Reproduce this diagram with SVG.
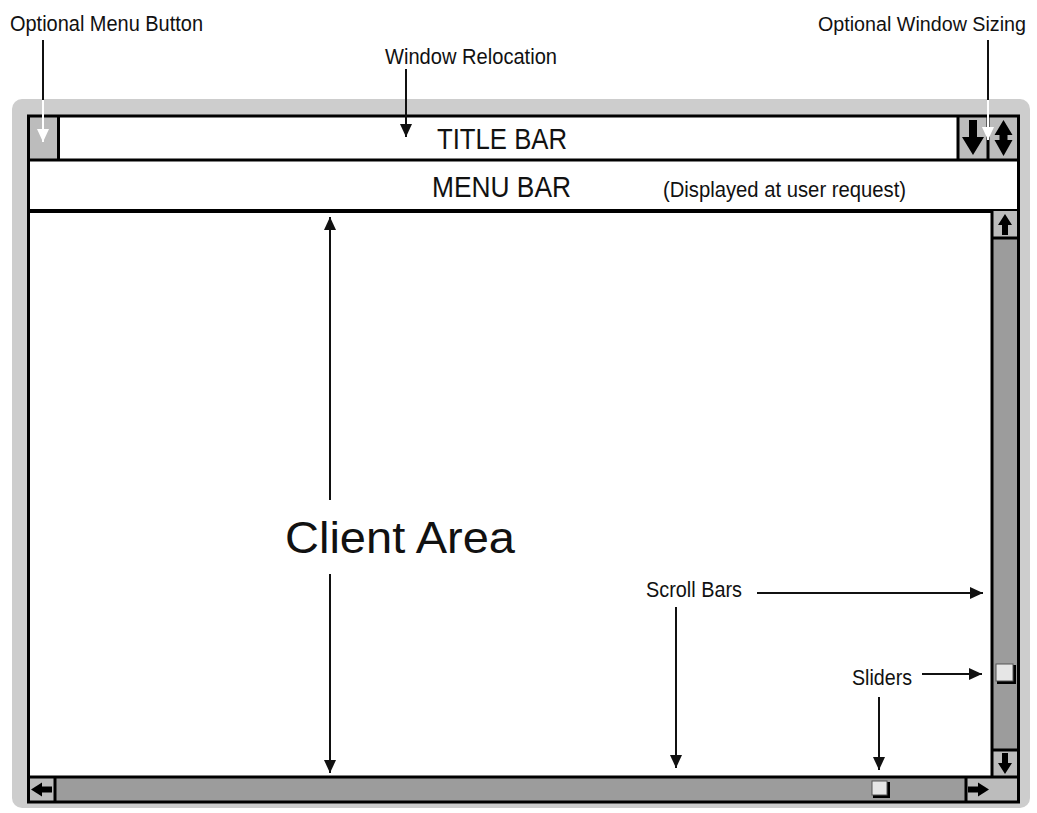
<svg xmlns="http://www.w3.org/2000/svg" width="1037" height="813" viewBox="0 0 1037 813">
<style>
text{font-family:"Liberation Sans",Arial,sans-serif;fill:#111}
.lbl{font-size:22px}
.bar{font-size:30px}
.ln{stroke:#111;stroke-width:2;fill:none}
.wl{stroke:#fff;stroke-width:2;fill:none}
.bk{stroke:#000;stroke-width:3;fill:none}
.btn{fill:#bcbcbc}
.sb{fill:#9c9c9c}
.blk{fill:#000}
</style>
<defs>
<marker id="ah" markerWidth="14" markerHeight="12" refX="13" refY="6" orient="auto" markerUnits="userSpaceOnUse"><path d="M0,0 L13,6 L0,12 z" fill="#111"/></marker>
<marker id="ahw" markerWidth="14" markerHeight="12" refX="13" refY="6" orient="auto" markerUnits="userSpaceOnUse"><path d="M0,0 L13,6 L0,12 z" fill="#fff"/></marker>
</defs>
<rect width="1037" height="813" fill="#fff"/>
<g id="frame">
<rect x="12" y="99" width="1018" height="709" rx="10" fill="#cdcdcd"/>
<rect x="28.5" y="116" width="990" height="686" fill="#fff"/>
</g>
<g id="title-bar">
<rect x="28" y="116" width="30" height="44" class="btn"/>
<rect x="958" y="116" width="60" height="44" class="btn"/>
<line x1="58.5" y1="116" x2="58.5" y2="160" class="bk"/>
<line x1="958" y1="116" x2="958" y2="160" class="bk"/>
<line x1="988" y1="116" x2="988" y2="160" class="bk"/>
<line x1="28" y1="160" x2="1018" y2="160" class="bk"/>
<path class="blk" d="M969,120 h8 v17 h7 l-11,18 l-11,-18 h7 z"/>
<path class="blk" d="M1003.5,120 l9,15 h-5 v5 h5 l-9,16 l-9,-16 h5 v-5 h-5 z"/>
<text class="bar" x="437" y="149" textLength="130" lengthAdjust="spacingAndGlyphs">TITLE BAR</text>
</g>
<g id="menu-bar">
<line x1="28" y1="211" x2="1018" y2="211" stroke="#000" stroke-width="4"/>
<text class="bar" x="432" y="197" textLength="139" lengthAdjust="spacingAndGlyphs">MENU BAR</text>
<text class="lbl" x="663" y="197" textLength="243" lengthAdjust="spacingAndGlyphs">(Displayed at user request)</text>
</g>
<g id="vertical-scroll-bar">
<rect x="992" y="211" width="26" height="566" class="sb"/>
<rect x="992" y="211" width="26" height="27" class="btn"/>
<rect x="992" y="750" width="26" height="27" class="btn"/>
<line x1="992" y1="211" x2="992" y2="802" class="bk"/>
<line x1="992" y1="238" x2="1018" y2="238" class="bk"/>
<line x1="992" y1="750" x2="1018" y2="750" class="bk"/>
<path class="blk" d="M1005,214 l7,11 h-4 v10 h-6 v-10 h-4 z"/>
<path class="blk" d="M1005,774 l7,-11 h-4 v-10 h-6 v10 h-4 z"/>
<rect x="997" y="665" width="19" height="19" fill="#000"/>
<rect x="996" y="664" width="17" height="17" fill="#e6e6e6" stroke="#555" stroke-width="1"/>
</g>
<g id="horizontal-scroll-bar">
<rect x="28" y="777" width="964" height="25" class="sb"/>
<rect x="28" y="777" width="27" height="25" class="btn"/>
<rect x="966" y="777" width="26" height="25" class="btn"/>
<rect x="992" y="777" width="26" height="25" class="btn"/>
<line x1="28" y1="777" x2="1018" y2="777" class="bk"/>
<line x1="55" y1="777" x2="55" y2="802" class="bk"/>
<line x1="966" y1="777" x2="966" y2="802" class="bk"/>
<path class="blk" d="M31,789.5 l11,-7 v4 h10 v6 h-10 v4 z"/>
<path class="blk" d="M989,789.5 l-11,-7 v4 h-10 v6 h10 v4 z"/>
<rect x="873" y="782" width="17" height="16" fill="#000"/>
<rect x="872" y="781" width="15" height="14" fill="#e6e6e6" stroke="#555" stroke-width="1"/>
</g>
<g id="window-border">
<rect x="28.5" y="116" width="990" height="686" class="bk"/>
</g>
<g id="client-area">
<text x="285" y="553" font-size="45" textLength="230" lengthAdjust="spacingAndGlyphs">Client Area</text>
</g>
<g id="labels">
<text class="lbl" x="10" y="31" textLength="193" lengthAdjust="spacingAndGlyphs">Optional Menu Button</text>
<text x="818" y="31" font-size="20" textLength="208" lengthAdjust="spacingAndGlyphs">Optional Window Sizing</text>
<text class="lbl" x="385" y="64" textLength="172" lengthAdjust="spacingAndGlyphs">Window Relocation</text>
<text class="lbl" x="646" y="597" textLength="96" lengthAdjust="spacingAndGlyphs">Scroll Bars</text>
<text class="lbl" x="852" y="685" textLength="60" lengthAdjust="spacingAndGlyphs">Sliders</text>
</g>
<g id="connectors">
<line x1="43" y1="40" x2="43" y2="100" class="ln"/>
<line x1="43" y1="100" x2="43" y2="142" class="wl" marker-end="url(#ahw)"/>
<line x1="988" y1="40" x2="988" y2="100" class="ln"/>
<line x1="988" y1="100" x2="988" y2="140" class="wl" marker-end="url(#ahw)"/>
<line x1="406" y1="69" x2="406" y2="137" class="ln" marker-end="url(#ah)"/>
<line x1="330" y1="500" x2="330" y2="217" class="ln" marker-end="url(#ah)"/>
<line x1="330" y1="574" x2="330" y2="773" class="ln" marker-end="url(#ah)"/>
<line x1="757" y1="593" x2="983" y2="593" class="ln" marker-end="url(#ah)"/>
<line x1="676" y1="607" x2="676" y2="768" class="ln" marker-end="url(#ah)"/>
<line x1="922" y1="674" x2="982" y2="674" class="ln" marker-end="url(#ah)"/>
<line x1="879" y1="697" x2="879" y2="770" class="ln" marker-end="url(#ah)"/>
</g>
</svg>
